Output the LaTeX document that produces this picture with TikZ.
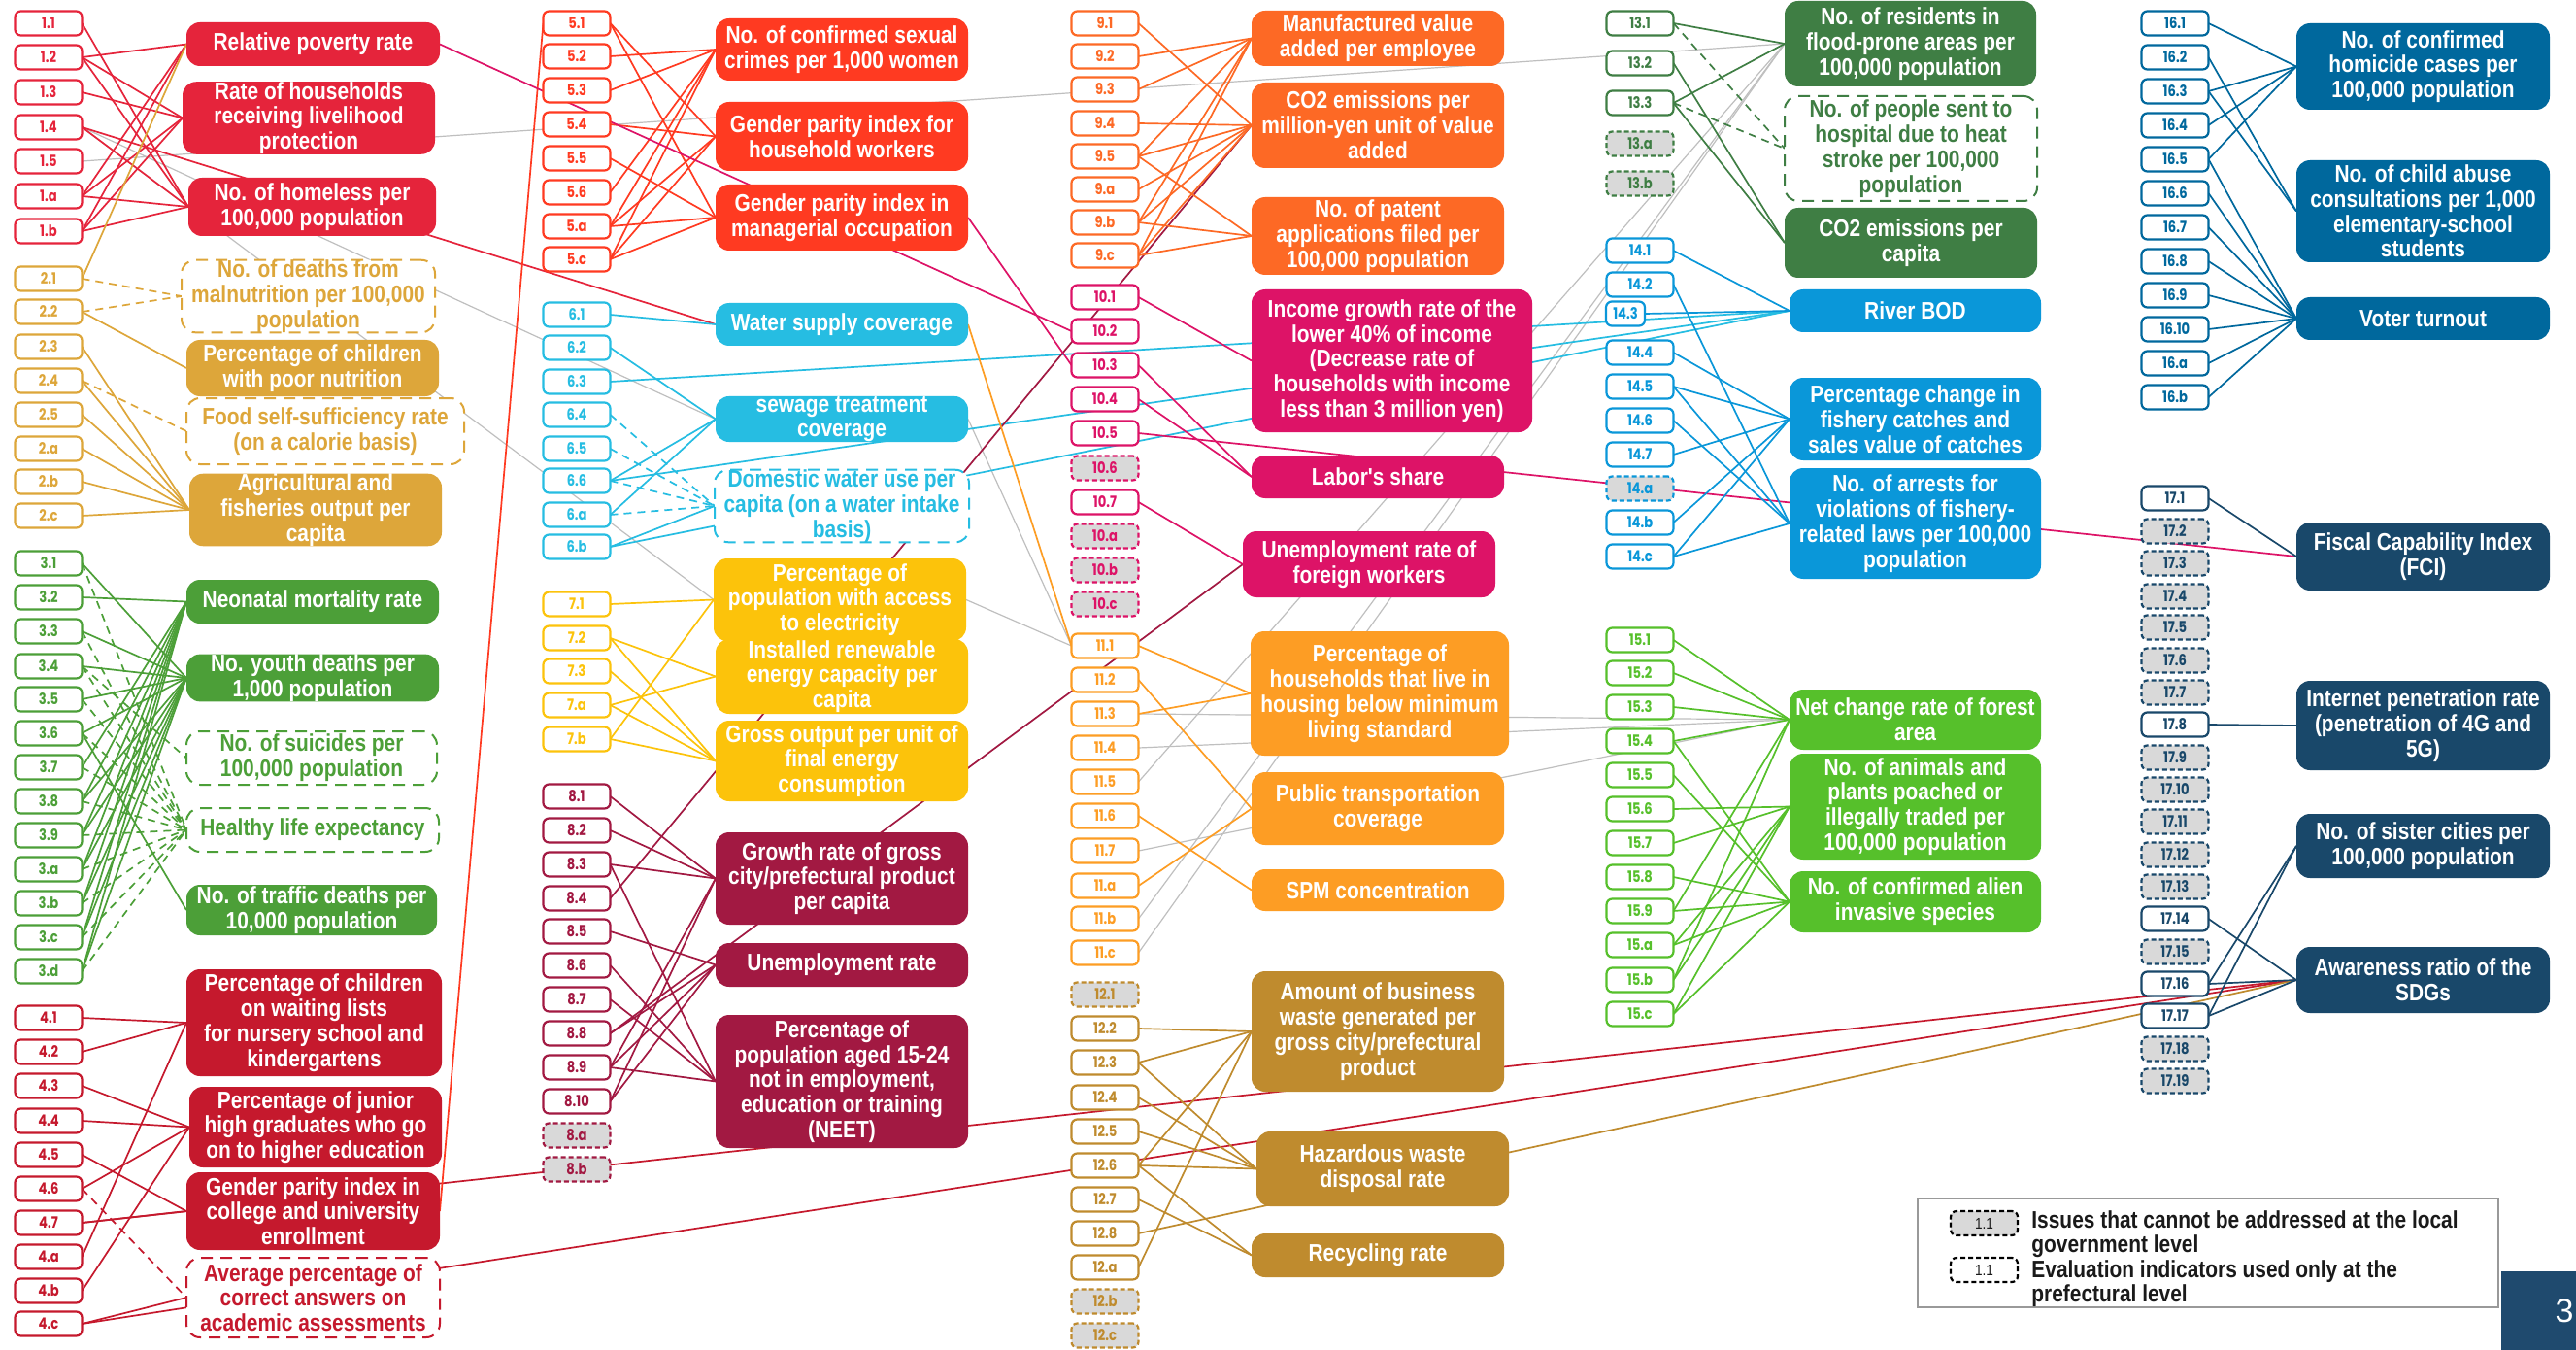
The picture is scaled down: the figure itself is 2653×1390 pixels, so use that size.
\documentclass[tikz,border=0pt]{standalone}
\usepackage{fontspec}
\newfontfamily\tfont[FakeStretch=0.85]{Liberation Sans}
\newfontfamily\idfont[FakeStretch=0.82]{Poppins}
\definecolor{c1}{HTML}{E5243B}
\definecolor{c2}{HTML}{DDA63A}
\definecolor{c3}{HTML}{4C9F38}
\definecolor{c4}{HTML}{C5192D}
\definecolor{c5}{HTML}{FF3A21}
\definecolor{c6}{HTML}{26BDE2}
\definecolor{c7}{HTML}{FCC30B}
\definecolor{c8}{HTML}{A21942}
\definecolor{c9}{HTML}{FD6925}
\definecolor{c10}{HTML}{DD1367}
\definecolor{c11}{HTML}{FD9D24}
\definecolor{c12}{HTML}{BF8B2E}
\definecolor{c13}{HTML}{3F7E44}
\definecolor{c14}{HTML}{0A97D9}
\definecolor{c15}{HTML}{56C02B}
\definecolor{c16}{HTML}{00689D}
\definecolor{c17}{HTML}{19486A}
\definecolor{lgrey}{HTML}{BFBFBF}
\definecolor{idgrey}{HTML}{D9D9D9}
\definecolor{pgblue}{HTML}{1F4A6E}
\definecolor{legtext}{HTML}{1A1A1A}
\pgfdeclarelayer{back}
\pgfdeclarelayer{bg}
\pgfsetlayers{back,bg,main}
\tikzset{
 tfnt/.style={font=\tfont\bfseries\fontsize{12.3}{12.9}\selectfont},
 tg/.style={fill=#1, text=white, rounded corners=7pt, align=center, inner sep=0pt, outer sep=0pt, tfnt},
 tgd/.style={fill=white, draw=#1, text=#1, line width=1pt, dash pattern=on 6pt off 4pt, rounded corners=7pt, align=center, inner sep=0pt, outer sep=0pt, tfnt},
 sz/.style 2 args={minimum width=#1*0.5pt, minimum height=#2*0.5pt},
 idb/.style={draw=#1, fill=white, text=#1, line width=1.1pt, rounded corners=3pt, minimum width=34.5pt, minimum height=12.5pt, inner sep=0pt, outer sep=0pt, font=\idfont\bfseries\fontsize{8}{8}\selectfont},
 idd/.style={idb=#1, fill=idgrey, dash pattern=on 2.5pt off 1.5pt},
 cn/.style={draw=#1, line width=0.85pt},
 cnd/.style={draw=#1, line width=0.85pt, dash pattern=on 4pt off 3pt},
 cng/.style={draw=lgrey, line width=0.6pt},
}
\begin{document}
\begin{tikzpicture}[x=0.5pt,y=-0.5pt]
\useasboundingbox (0,0) rectangle (2653,1390);
\begin{pgfonlayer}{back}
\fill[white] (0,0) rectangle (2653,1390);
\end{pgfonlayer}

% ---------- target boxes, column A ----------
\node[tg=c1, sz={261}{45}] (RP) at (322.5,45.5) {Relative poverty rate};
\node[tg=c1, sz={260}{73}] (RH) at (318,121.5) {Rate of households\\receiving livelihood\\protection};
\node[tg=c1, sz={255}{60}] (HL) at (321.5,213) {No. of homeless per\\100,000 population};
\node[tgd=c2, sz={261}{66}] (MN) at (317.5,305) {No. of deaths from\\malnutrition per 100,000\\population};
\node[tg=c2, sz={260}{58}] (CN) at (322,379) {Percentage of children\\with poor nutrition};
\node[tgd=c2, sz={286}{68}] (FS) at (335,444) {Food self-sufficiency rate\\(on a calorie basis)};
\node[tg=c2, sz={260}{70}] (AG) at (325,525) {Agricultural and\\fisheries output per\\capita};
\node[tg=c3, sz={260}{45}] (NM) at (322,619.5) {Neonatal mortality rate};
\node[tg=c3, sz={260}{44}] (YD) at (322,698) {No. youth deaths per\\1,000 population};
\node[tgd=c3, sz={258}{55}] (SU) at (321,780.5) {No. of suicides per\\100,000 population};
\node[tgd=c3, sz={260}{45}] (HE) at (322,854.5) {Healthy life expectancy};
\node[tg=c3, sz={258}{52}] (TD) at (321,937) {No. of traffic deaths per\\10,000 population};
\node[tg=c4, sz={263}{110}] (WL) at (323.5,1053) {Percentage of children\\on waiting lists\\for nursery school and\\kindergartens};
\node[tg=c4, sz={260}{83}] (JH) at (325,1160.5) {Percentage of junior\\high graduates who go\\on to higher education};
\node[tg=c4, sz={261}{80}] (GC) at (322.5,1247) {Gender parity index in\\college and university\\enrollment};
\node[tgd=c4, sz={261}{82}] (AP) at (322.5,1336) {Average percentage of\\correct answers on\\academic assessments};

% ---------- column B ----------
\node[tg=c5, sz={260}{64}] (SC) at (867,51) {No. of confirmed sexual\\crimes per 1,000 women};
\node[tg=c5, sz={260}{71}] (GH) at (867,140.5) {Gender parity index for\\household workers};
\node[tg=c5, sz={260}{68}] (GM) at (867,224) {Gender parity index in\\managerial occupation};
\node[tg=c6, sz={260}{44}] (WS) at (867,334) {Water supply coverage};
\node[tg=c6, sz={260}{45}] (ST) at (867,431.5) {sewage treatment\\coverage};
\node[tgd=c6, sz={262}{72}] (DW) at (867,521) {Domestic water use per\\capita (on a water intake\\basis)};
\node[tg=c7, sz={260}{85}] (EL) at (865,617.5) {Percentage of\\population with access\\to electricity};
\node[tg=c7, sz={260}{77}] (RE) at (867,696.5) {Installed renewable\\energy capacity per\\capita};
\node[tg=c7, sz={260}{83}] (GO) at (867,783.5) {Gross output per unit of\\final energy\\consumption};
\node[tg=c8, sz={260}{95}] (GR) at (867,904.5) {Growth rate of gross\\city/prefectural product\\per capita};
\node[tg=c8, sz={260}{45}] (UR) at (867,993.5) {Unemployment rate};
\node[tg=c8, sz={260}{137}] (NE) at (867,1113.5) {Percentage of\\population aged 15-24\\not in employment,\\education or training\\(NEET)};

% ---------- column C ----------
\node[tg=c9, sz={260}{57}] (MV) at (1419,39.5) {Manufactured value\\added per employee};
\node[tg=c9, sz={260}{88}] (CE) at (1419,129) {CO2 emissions per\\million-yen unit of value\\added};
\node[tg=c9, sz={260}{80}] (PA) at (1419,243) {No. of patent\\applications filed per\\100,000 population};
\node[tg=c10, sz={289}{147}] (IG) at (1433.5,371.5) {Income growth rate of the\\lower 40\% of income\\(Decrease rate of\\households with income\\less than 3 million yen)};
\node[tg=c10, sz={260}{44}] (LS) at (1419,491) {Labor's share};
\node[tg=c10, sz={260}{68}] (FW) at (1410,581) {Unemployment rate of\\foreign workers};
\node[tg=c11, sz={266}{128}] (HM) at (1421,714) {Percentage of\\households that live in\\housing below minimum\\living standard};
\node[tg=c11, sz={260}{75}] (PT) at (1419,832.5) {Public transportation\\coverage};
\node[tg=c11, sz={260}{43}] (SPM) at (1419,916.5) {SPM concentration};
\node[tg=c12, sz={260}{124}] (BW) at (1419,1062) {Amount of business\\waste generated per\\gross city/prefectural\\product};
\node[tg=c12, sz={260}{77}] (HW) at (1424,1203.5) {Hazardous waste\\disposal rate};
\node[tg=c12, sz={260}{45}] (RR) at (1419,1292.5) {Recycling rate};

% ---------- column D ----------
\node[tg=c13, sz={259}{88}] (FR) at (1967.5,45) {No. of residents in\\flood-prone areas per\\100,000 population};
\node[tgd=c13, sz={260}{108}] (HS) at (1968,153) {No. of people sent to\\hospital due to heat\\stroke per 100,000\\population};
\node[tg=c13, sz={260}{72}] (CP) at (1968,250) {CO2 emissions per\\capita};
\node[tg=c14, sz={259}{44}] (RB) at (1972.5,320) {River BOD};
\node[tg=c14, sz={259}{85}] (FC) at (1972.5,431.5) {Percentage change in\\fishery catches and\\sales value of catches};
\node[tg=c14, sz={259}{114}] (AR) at (1972.5,539) {No. of arrests for\\violations of fishery-\\related laws per 100,000\\population};
\node[tg=c15, sz={259}{62}] (NF) at (1972.5,741) {Net change rate of forest\\area};
\node[tg=c15, sz={259}{109}] (PP) at (1972.5,830.5) {No. of animals and\\plants poached or\\illegally traded per\\100,000 population};
\node[tg=c15, sz={259}{63}] (AS) at (1972.5,928.5) {No. of confirmed alien\\invasive species};

% ---------- column E ----------
\node[tg=c16, sz={261}{89}] (HC) at (2495.5,68.5) {No. of confirmed\\homicide cases per\\100,000 population};
\node[tg=c16, sz={261}{105}] (CA) at (2495.5,217.5) {No. of child abuse\\consultations per 1,000\\elementary-school\\students};
\node[tg=c16, sz={261}{44}] (VT) at (2495.5,328) {Voter turnout};
\node[tg=c17, sz={261}{70}] (FCI) at (2495.5,573) {Fiscal Capability Index\\(FCI)};
\node[tg=c17, sz={261}{92}] (IN) at (2495.5,747) {Internet penetration rate\\(penetration of 4G and\\5G)};
\node[tg=c17, sz={261}{66}] (SS) at (2495.5,871) {No. of sister cities per\\100,000 population};
\node[tg=c17, sz={261}{68}] (AW) at (2495.5,1009) {Awareness ratio of the\\SDGs};

% ---------- indicator id boxes ----------
\foreach \l/\m/\y in {1.1/1-1/24,1.2/1-2/59,1.3/1-3/95,1.4/1-4/131,1.5/1-5/166,1.a/1-a/202,1.b/1-b/238}
  \node[idb=c1] (n\m) at (50,\y) {\l};
\foreach \l/\m/\y in {2.1/2-1/287,2.2/2-2/321,2.3/2-3/357,2.4/2-4/392,2.5/2-5/427,2.a/2-a/462,2.b/2-b/496,2.c/2-c/531}
  \node[idb=c2] (n\m) at (50,\y) {\l};
\foreach \l/\m/\y in {3.1/3-1/580,3.2/3-2/615,3.3/3-3/650,3.4/3-4/686,3.5/3-5/720,3.6/3-6/755,3.7/3-7/790,3.8/3-8/825,3.9/3-9/860,3.a/3-a/895,3.b/3-b/930,3.c/3-c/965,3.d/3-d/1000}
  \node[idb=c3] (n\m) at (50,\y) {\l};
\foreach \l/\m/\y in {4.1/4-1/1048,4.2/4-2/1083,4.3/4-3/1118,4.4/4-4/1154,4.5/4-5/1189,4.6/4-6/1224,4.7/4-7/1259,4.a/4-a/1294,4.b/4-b/1329,4.c/4-c/1363}
  \node[idb=c4] (n\m) at (50,\y) {\l};
\foreach \l/\m/\y in {5.1/5-1/24,5.2/5-2/58,5.3/5-3/93,5.4/5-4/128,5.5/5-5/163,5.6/5-6/198,5.a/5-a/233,5.c/5-c/267}
  \node[idb=c5] (n\m) at (594,\y) {\l};
\foreach \l/\m/\y in {6.1/6-1/324,6.2/6-2/358,6.3/6-3/393,6.4/6-4/427,6.5/6-5/462,6.6/6-6/495,6.a/6-a/530,6.b/6-b/563}
  \node[idb=c6] (n\m) at (594,\y) {\l};
\foreach \l/\m/\y in {7.1/7-1/622,7.2/7-2/657,7.3/7-3/691,7.a/7-a/726,7.b/7-b/761}
  \node[idb=c7] (n\m) at (594,\y) {\l};
\foreach \l/\m/\y in {8.1/8-1/820,8.2/8-2/855,8.3/8-3/890,8.4/8-4/925,8.5/8-5/959,8.6/8-6/994,8.7/8-7/1029,8.8/8-8/1064,8.9/8-9/1099,8.10/8-10/1134}
  \node[idb=c8] (n\m) at (594,\y) {\l};
\foreach \l/\m/\y in {8.a/8-a/1169,8.b/8-b/1204}
  \node[idd=c8] (n\m) at (594,\y) {\l};
\foreach \l/\m/\y in {9.1/9-1/24,9.2/9-2/58,9.3/9-3/92,9.4/9-4/127,9.5/9-5/161,9.a/9-a/195,9.b/9-b/229,9.c/9-c/263}
  \node[idb=c9] (n\m) at (1138,\y) {\l};
\foreach \l/\m/\y in {10.1/10-1/306,10.2/10-2/341,10.3/10-3/376,10.4/10-4/411,10.5/10-5/446,10.7/10-7/517}
  \node[idb=c10] (n\m) at (1138,\y) {\l};
\foreach \l/\m/\y in {10.6/10-6/482,10.a/10-a/552,10.b/10-b/587,10.c/10-c/622}
  \node[idd=c10] (n\m) at (1138,\y) {\l};
\foreach \l/\m/\y in {11.1/11-1/665,11.2/11-2/700,11.3/11-3/735,11.4/11-4/770,11.5/11-5/805,11.6/11-6/840,11.7/11-7/876,11.a/11-a/912,11.b/11-b/946,11.c/11-c/981}
  \node[idb=c11] (n\m) at (1138,\y) {\l};
\foreach \l/\m/\y in {12.2/12-2/1059,12.3/12-3/1094,12.4/12-4/1130,12.5/12-5/1165,12.6/12-6/1200,12.7/12-7/1235,12.8/12-8/1270,12.a/12-a/1305}
  \node[idb=c12] (n\m) at (1138,\y) {\l};
\foreach \l/\m/\y in {12.1/12-1/1024,12.b/12-b/1340,12.c/12-c/1375}
  \node[idd=c12] (n\m) at (1138,\y) {\l};
\foreach \l/\m/\y in {13.1/13-1/24,13.2/13-2/65,13.3/13-3/106}
  \node[idb=c13] (n\m) at (1689,\y) {\l};
\foreach \l/\m/\y in {13.a/13-a/148,13.b/13-b/189}
  \node[idd=c13] (n\m) at (1689,\y) {\l};
\foreach \l/\m/\y in {14.1/14-1/258,14.2/14-2/293,14.4/14-4/363,14.5/14-5/398,14.6/14-6/433,14.7/14-7/468,14.b/14-b/538,14.c/14-c/573}
  \node[idb=c14] (n\m) at (1689,\y) {\l};
\node[idb=c14, minimum width=20pt] (n14-3) at (1674,323) {14.3};
\node[idd=c14] (n14-a) at (1689,503) {14.a};
\foreach \l/\m/\y in {15.1/15-1/659,15.2/15-2/693,15.3/15-3/728,15.4/15-4/763,15.5/15-5/798,15.6/15-6/833,15.7/15-7/868,15.8/15-8/903,15.9/15-9/938,15.a/15-a/973,15.b/15-b/1009,15.c/15-c/1044}
  \node[idb=c15] (n\m) at (1689,\y) {\l};
\foreach \l/\m/\y in {16.1/16-1/24,16.2/16-2/59,16.3/16-3/94,16.4/16-4/129,16.5/16-5/164,16.6/16-6/199,16.7/16-7/234,16.8/16-8/269,16.9/16-9/304,16.10/16-10/339,16.a/16-a/374,16.b/16-b/409}
  \node[idb=c16] (n\m) at (2240,\y) {\l};
\foreach \l/\m/\y in {17.1/17-1/513,17.8/17-8/746,17.14/17-14/946,17.16/17-16/1013,17.17/17-17/1046}
  \node[idb=c17] (n\m) at (2240,\y) {\l};
\foreach \l/\m/\y in {17.2/17-2/547,17.3/17-3/580,17.4/17-4/614,17.5/17-5/646,17.6/17-6/680,17.7/17-7/713,17.9/17-9/780,17.10/17-10/813,17.11/17-11/846,17.12/17-12/880,17.13/17-13/913,17.15/17-15/980,17.18/17-18/1080,17.19/17-19/1113}
  \node[idd=c17] (n\m) at (2240,\y) {\l};

% ---------- legend and page number ----------
\node[draw=gray!80, line width=0.8pt, sz={598}{112}, inner sep=0pt] (LG) at (2274,1290) {};
\node[idd=black, text=legtext, font=\tfont\fontsize{8}{8}\selectfont] (L1) at (2043.5,1259.5) {1.1};
\node[idb=black, text=legtext, dash pattern=on 2.5pt off 1.5pt, font=\tfont\fontsize{8}{8}\selectfont] (L2) at (2043.5,1307.5) {1.1};
\node[anchor=west, align=left, text=legtext, inner sep=0pt, font=\tfont\bfseries\fontsize{12.3}{12.5}\selectfont] (LT1) at (2092,1270.5) {Issues that cannot be addressed at the local\\government level};
\node[anchor=west, align=left, text=legtext, inner sep=0pt, font=\tfont\bfseries\fontsize{12.3}{12.5}\selectfont] (LT2) at (2092,1321.5) {Evaluation indicators used only at the\\prefectural level};
\node[fill=pgblue, sz={77}{81}, inner sep=0pt] (PG) at (2614.5,1349.5) {};
\node[text=white, inner sep=0pt, font=\fontspec{Liberation Sans}\fontsize{17}{17}\selectfont] (PN) at (2641,1350) {3};

% ---------- connectors ----------
\begin{pgfonlayer}{bg}
\foreach \s/\t in {1-4/ST,1-4/EL,1-5/FR,11-3/NF,11-4/NF,11-7/NF,11-5/FR,11-b/FR,11-c/FR}
  \draw[cng] (n\s.east) -- (\t.west);
\draw[cng] (n11-1.west) -- (ST.east);
\draw[cng] (n11-1.west) -- (EL.east);
\foreach \s/\t in {1-1/HL,1-2/RP,1-2/RH,1-2/HL,1-3/RH,1-4/HL,1-4/WS,1-a/RP,1-a/RH,1-a/HL,1-b/RP,1-b/RH,1-b/HL}
  \draw[cn=c1] (n\s.east) -- (\t.west);
\foreach \s/\t in {2-1/RP,2-2/CN,2-3/AG,2-4/AG,2-5/AG,2-a/AG,2-b/AG,2-c/AG}
  \draw[cn=c2] (n\s.east) -- (\t.west);
\foreach \s/\t in {2-1/MN,2-2/MN,2-4/FS}
  \draw[cnd=c2] (n\s.east) -- (\t.west);
\foreach \s/\t in {3-2/NM,3-7/NM,3-8/NM,3-9/NM,3-a/NM,3-b/NM,3-c/NM,3-d/NM,3-1/YD,3-3/YD,3-4/YD,3-5/YD,3-6/YD,3-8/YD,3-9/YD,3-a/YD,3-b/YD,3-c/YD,3-d/YD,3-6/TD}
  \draw[cn=c3] (n\s.east) -- (\t.west);
\foreach \s/\t in {3-1/HE,3-3/HE,3-4/HE,3-5/HE,3-6/HE,3-7/HE,3-8/HE,3-9/HE,3-a/HE,3-b/HE,3-c/HE,3-d/HE,3-4/SU}
  \draw[cnd=c3] (n\s.east) -- (\t.west);
\foreach \s/\t in {4-1/WL,4-2/WL,4-a/WL,4-3/JH,4-4/JH,4-6/JH,4-b/JH,4-5/GC,4-7/GC,4-c/AP,4-7/AW,4-c/AW}
  \draw[cn=c4] (n\s.east) -- (\t.west);
\draw[cnd=c4] (n4-6.east) -- (AP.west);
\foreach \s/\t in {5-2/SC,5-3/SC,5-6/SC,5-a/SC,5-c/SC,5-1/GH,5-4/GH,5-a/GH,5-c/GH,5-1/GM,5-5/GM,5-a/GM,5-c/GM}
  \draw[cn=c5] (n\s.east) -- (\t.west);
\draw[cn=c5] (n5-1.west) -- (GC.east);
\foreach \s/\t in {6-1/WS,6-2/ST,6-6/ST,6-a/ST,6-b/DW,6-3/RB,6-6/RB,6-b/RB}
  \draw[cn=c6] (n\s.east) -- (\t.west);
\foreach \s/\t in {6-4/DW,6-5/DW,6-6/DW,6-a/DW}
  \draw[cnd=c6] (n\s.east) -- (\t.west);
\foreach \s/\t in {7-1/EL,7-b/EL,7-2/RE,7-a/RE,7-2/GO,7-3/GO,7-a/GO,7-b/GO}
  \draw[cn=c7] (n\s.east) -- (\t.west);
\foreach \s/\t in {8-1/GR,8-2/GR,8-3/GR,8-9/GR,8-10/GR,8-5/UR,8-8/UR,8-9/UR,8-10/UR,8-3/NE,8-6/NE,8-7/NE,8-9/NE,8-4/CE,8-8/FW}
  \draw[cn=c8] (n\s.east) -- (\t.west);
\foreach \s/\t in {9-2/MV,9-3/MV,9-5/MV,9-b/MV,9-c/MV,9-1/CE,9-4/CE,9-5/CE,9-a/CE,9-b/CE,9-c/CE,9-5/PA,9-b/PA,9-c/PA}
  \draw[cn=c9] (n\s.east) -- (\t.west);
\foreach \s/\t in {10-1/IG,10-3/LS,10-4/LS,10-7/FW,10-5/FCI}
  \draw[cn=c10] (n\s.east) -- (\t.west);
\draw[cn=c10] (n10-2.west) -- (RP.east);
\draw[cn=c10] (n10-3.west) -- (GM.east);
\foreach \s/\t in {11-1/HM,11-3/HM,11-2/PT,11-a/PT,11-6/SPM}
  \draw[cn=c11] (n\s.east) -- (\t.west);
\draw[cn=c11] (n11-1.west) -- (WS.east);
\foreach \s/\t in {12-2/BW,12-3/BW,12-6/BW,12-a/BW,12-3/HW,12-4/HW,12-5/HW,12-6/HW,12-6/RR,12-7/RR,12-8/AW}
  \draw[cn=c12] (n\s.east) -- (\t.west);
\foreach \s/\t in {13-1/FR,13-3/FR,13-2/CP,13-3/CP}
  \draw[cn=c13] (n\s.east) -- (\t.west);
\foreach \s/\t in {13-1/HS,13-3/HS}
  \draw[cnd=c13] (n\s.east) -- (\t.west);
\foreach \s/\t in {14-1/RB,14-3/RB,14-4/FC,14-5/FC,14-7/FC,14-b/FC,14-c/FC,14-2/AR,14-5/AR,14-6/AR,14-c/AR}
  \draw[cn=c14] (n\s.east) -- (\t.west);
\foreach \s/\t in {15-1/NF,15-2/NF,15-3/NF,15-4/NF,15-9/NF,15-b/NF,15-6/PP,15-7/PP,15-a/PP,15-b/PP,15-c/PP,15-4/AS,15-5/AS,15-8/AS,15-9/AS,15-a/AS,15-c/AS}
  \draw[cn=c15] (n\s.east) -- (\t.west);
\foreach \s/\t in {16-1/HC,16-3/HC,16-4/HC,16-5/HC,16-2/CA,16-3/CA,16-5/VT,16-6/VT,16-7/VT,16-8/VT,16-9/VT,16-10/VT,16-a/VT,16-b/VT}
  \draw[cn=c16] (n\s.east) -- (\t.west);
\foreach \s/\t in {17-1/FCI,17-8/IN,17-16/SS,17-17/SS,17-14/AW,17-16/AW,17-17/AW}
  \draw[cn=c17] (n\s.east) -- (\t.west);
\end{pgfonlayer}
\end{tikzpicture}
\end{document}
